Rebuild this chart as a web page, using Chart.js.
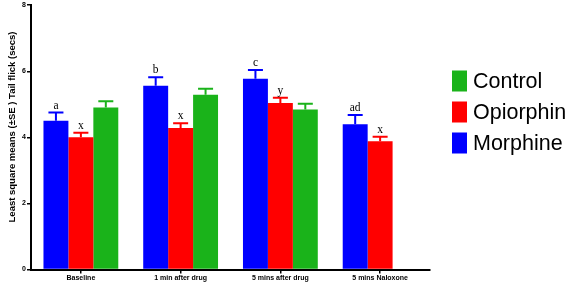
<!DOCTYPE html>
<html>
<head>
<meta charset="utf-8">
<script src="https://cdn.jsdelivr.net/npm/chart.js@4"></script>
<style>
  html, body { margin: 0; padding: 0; background: #fff; }
  #wrap { width: 567px; height: 283px; position: relative; }
</style>
</head>
<body>
<div id="wrap"><canvas id="c" width="567" height="283"></canvas></div>
<script>
const categories = ['Baseline', '1 min after drug', '5 mins after drug', '5 mins Naloxone'];
const morphineMeans = [4.50, 5.56, 5.77, 4.40];
const morphineSE    = [0.25, 0.26, 0.27, 0.28];
const opiorphinMeans = [4.00, 4.28, 5.04, 3.88];
const opiorphinSE    = [0.14, 0.15, 0.16, 0.14];
const controlMeans = [4.90, 5.29, 4.84, null];
const controlSE    = [0.19, 0.18, 0.18, null];
const morphineLetters  = ['a', 'b', 'c', 'ad'];
const opiorphinLetters = ['x', 'x', 'y', 'x'];
const yTicks = [0, 2, 4, 6, 8];
const yTitle = 'Least square means (±SE ) Tail flick (secs)';

const BLUE = '#0000FF', RED = '#FF0000', GREEN = '#1AB31A';

const errorBars = {
  id: 'errorBars',
  afterDatasetsDraw(chart) {
    const ctx = chart.ctx;
    const y = chart.scales.y;
    chart.data.datasets.forEach((ds, di) => {
      const meta = chart.getDatasetMeta(di);
      meta.data.forEach((bar, i) => {
        const v = ds.data[i];
        if (v == null) return;
        const se = ds.se[i];
        const top = y.getPixelForValue(v + se);
        const x = bar.x;
        ctx.save();
        ctx.strokeStyle = ds.backgroundColor;
        ctx.lineWidth = 2;
        ctx.beginPath();
        ctx.moveTo(x, bar.y);
        ctx.lineTo(x, top);
        ctx.moveTo(x - 7.5, top);
        ctx.lineTo(x + 7.5, top);
        ctx.stroke();
        if (ds.letters && ds.letters[i]) {
          ctx.fillStyle = '#000';
          ctx.font = '11.5px "Liberation Serif", "Times New Roman", serif';
          ctx.textAlign = 'center';
          ctx.textBaseline = 'alphabetic';
          ctx.fillText(ds.letters[i], x, top - 4);
        }
        ctx.restore();
      });
    });
  }
};

const customLegend = {
  id: 'customLegend',
  afterDraw(chart) {
    const ctx = chart.ctx;
    const items = chart.data.datasets.slice().reverse();
    items.forEach((ds, k) => {
      const cy = 81 + k * 31;
      ctx.save();
      ctx.fillStyle = ds.backgroundColor;
      ctx.fillRect(452, cy - 10.5, 15, 21);
      ctx.fillStyle = '#000';
      ctx.font = '21.5px "Liberation Sans", Arial, sans-serif';
      ctx.textAlign = 'left';
      ctx.textBaseline = 'middle';
      ctx.fillText(ds.label, 473, cy + 1);
      ctx.restore();
    });
    // y-axis title
    ctx.save();
    ctx.translate(12, 127);
    ctx.rotate(-Math.PI / 2);
    ctx.fillStyle = '#000';
    ctx.font = 'bold 9.5px "Liberation Sans", Arial, sans-serif';
    ctx.textAlign = 'center';
    ctx.textBaseline = 'middle';
    ctx.fillText(yTitle, 0, 0);
    ctx.restore();
  }
};

new Chart(document.getElementById('c'), {
  type: 'bar',
  data: {
    labels: categories,
    datasets: [
      { label: 'Morphine', data: morphineMeans, se: morphineSE, letters: morphineLetters, backgroundColor: BLUE },
      { label: 'Opiorphin', data: opiorphinMeans, se: opiorphinSE, letters: opiorphinLetters, backgroundColor: RED },
      { label: 'Control', data: controlMeans, se: controlSE, backgroundColor: GREEN }
    ]
  },
  options: {
    responsive: false,
    animation: false,
    devicePixelRatio: 1,
    categoryPercentage: 0.75,
    barPercentage: 1.0,
    layout: { padding: { left: 0, right: 137, top: 0, bottom: 0 } },
    plugins: {
      legend: { display: false },
      tooltip: { enabled: false }
    },
    scales: {
      x: {
        grid: { display: true, drawOnChartArea: false, drawTicks: true, tickLength: 4, offset: false, color: '#000', lineWidth: 1.5 },
        border: { display: true, color: '#000', width: 2 },
        ticks: {
          color: '#000',
          padding: 0,
          maxRotation: 0,
          font: { family: '"Liberation Sans", Arial, sans-serif', size: 7, weight: 'bold' }
        },
        afterFit(scale) { scale.height = 13.5; }
      },
      y: {
        min: 0, max: 8,
        afterBuildTicks(scale) { scale.ticks = yTicks.map(v => ({ value: v })); },
        grid: { display: true, drawOnChartArea: false, drawTicks: true, tickLength: 4, color: '#000', lineWidth: 1.5 },
        border: { display: true, color: '#000', width: 2 },
        ticks: {
          color: '#000',
          padding: 1,
          font: { family: '"Liberation Sans", Arial, sans-serif', size: 7, weight: 'bold' }
        },
        afterFit(scale) { scale.width = 31; }
      }
    }
  },
  plugins: [errorBars, customLegend]
});
</script>
</body>
</html>
